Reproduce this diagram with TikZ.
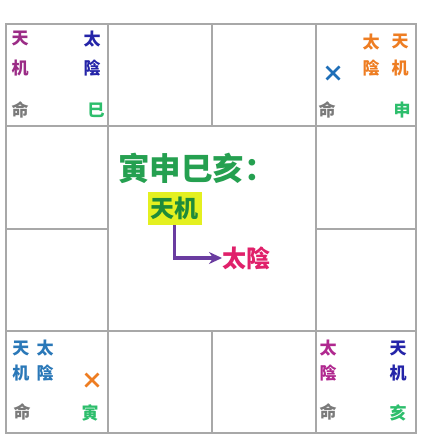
\documentclass[tikz,border=0pt]{standalone}
\usepackage{fontspec}
\newfontfamily\cjk{Noto Sans CJK SC}
\usetikzlibrary{arrows.meta,calc}
\definecolor{gridgray}{HTML}{A8A8A8}
\definecolor{mingray}{HTML}{7A7A7A}
\definecolor{branchgreen}{HTML}{2DBE6C}
\definecolor{tlpurple}{HTML}{9B2C86}
\definecolor{deepblue}{HTML}{2424A8}
\definecolor{starorange}{HTML}{EE7D22}
\definecolor{xblue}{HTML}{1F6FB8}
\definecolor{bluestar}{HTML}{2A78B8}
\definecolor{magstar}{HTML}{B0288F}
\definecolor{titlegreen}{HTML}{25A050}
\definecolor{boxyellow}{HTML}{E4F020}
\definecolor{boxgreen}{HTML}{1E8B3A}
\definecolor{arrowpurple}{HTML}{6A3CA0}
\definecolor{pinkstar}{HTML}{E0206A}
\tikzset{
  gridline/.style={draw=gridgray, line width=1.8pt},
  small/.style={font=\cjk\bfseries\fontsize{17}{17}\selectfont, inner sep=0pt, anchor=center},
  ming/.style={small, text=mingray},
  branch/.style={small, text=branchgreen},
  cross/.style={line width=2.8pt},
  flow/.style={draw=arrowpurple, line width=3.2pt, -{Stealth[length=13pt,width=12pt]}},
}
\begin{document}
\begin{tikzpicture}[x=1pt,y=-1pt]
\useasboundingbox (0,0) rectangle (427,446);
\fill[white] (0,0) rectangle (427,446);
% grid
\draw[gridline] (6,24) rectangle (416,433);
\draw[gridline] (6,126) -- (416,126);
\draw[gridline] (6,331) -- (416,331);
\draw[gridline] (6,229) -- (108,229);
\draw[gridline] (316,229) -- (416,229);
\draw[gridline] (108,24) -- (108,433);
\draw[gridline] (316,24) -- (316,433);
\draw[gridline] (212,24) -- (212,126);
\draw[gridline] (212,331) -- (212,433);
% top-left cell
\node[small, text=tlpurple] (tl1) at (20,39) {天};
\node[small, text=tlpurple] (tl2) at (20,68) {机};
\node[small, text=deepblue] (tl3) at (92,39) {太};
\node[small, text=deepblue] (tl4) at (92,68) {陰};
\node[ming] (tlm) at (20,110) {命};
\node[branch] (tlb) at (96,110) {巳};
% top-right cell
\node[small, text=starorange] (tr1) at (371,42) {太};
\node[small, text=starorange] (tr2) at (400,42) {天};
\node[small, text=starorange] (tr3) at (371,68) {陰};
\node[small, text=starorange] (tr4) at (400,68) {机};
\coordinate (trx) at (333,73);
\draw[cross, xblue] ($(trx)+(-6.5,-6.5)$) -- ($(trx)+(6.5,6.5)$) ($(trx)+(-6.5,6.5)$) -- ($(trx)+(6.5,-6.5)$);
\node[ming] (trm) at (327,110) {命};
\node[branch] (trb) at (402,110) {申};
% bottom-left cell
\node[small, text=bluestar] (bl1) at (21,348) {天};
\node[small, text=bluestar] (bl2) at (45,348) {太};
\node[small, text=bluestar] (bl3) at (21,373) {机};
\node[small, text=bluestar] (bl4) at (45,373) {陰};
\coordinate (blx) at (92,380);
\draw[cross, starorange] ($(blx)+(-6.5,-6.5)$) -- ($(blx)+(6.5,6.5)$) ($(blx)+(-6.5,6.5)$) -- ($(blx)+(6.5,-6.5)$);
\node[ming] (blm) at (22,412) {命};
\node[branch] (blb) at (90,413) {寅};
% bottom-right cell
\node[small, text=magstar] (br1) at (328,348) {太};
\node[small, text=magstar] (br2) at (328,373) {陰};
\node[small, text=deepblue] (br3) at (398,348) {天};
\node[small, text=deepblue] (br4) at (398,373) {机};
\node[ming] (brm) at (328,412) {命};
\node[branch] (brb) at (398,413) {亥};
% centre
\node[font=\cjk\bfseries\fontsize{31.5}{31.5}\selectfont, text=titlegreen, inner sep=0pt, anchor=west] (title) at (118,168) {寅申巳亥：};
\node[fill=boxyellow, text=boxgreen, font=\cjk\bfseries\fontsize{24}{24}\selectfont, inner xsep=3pt, inner ysep=5pt] (tj) at (174.5,208.5) {天机};
\node[text=pinkstar, font=\cjk\bfseries\fontsize{24}{24}\selectfont, inner sep=0pt, anchor=west] (ty) at (222,258) {太陰};
\draw[flow] (tj.south) |- (ty.west);
\end{tikzpicture}
\end{document}
